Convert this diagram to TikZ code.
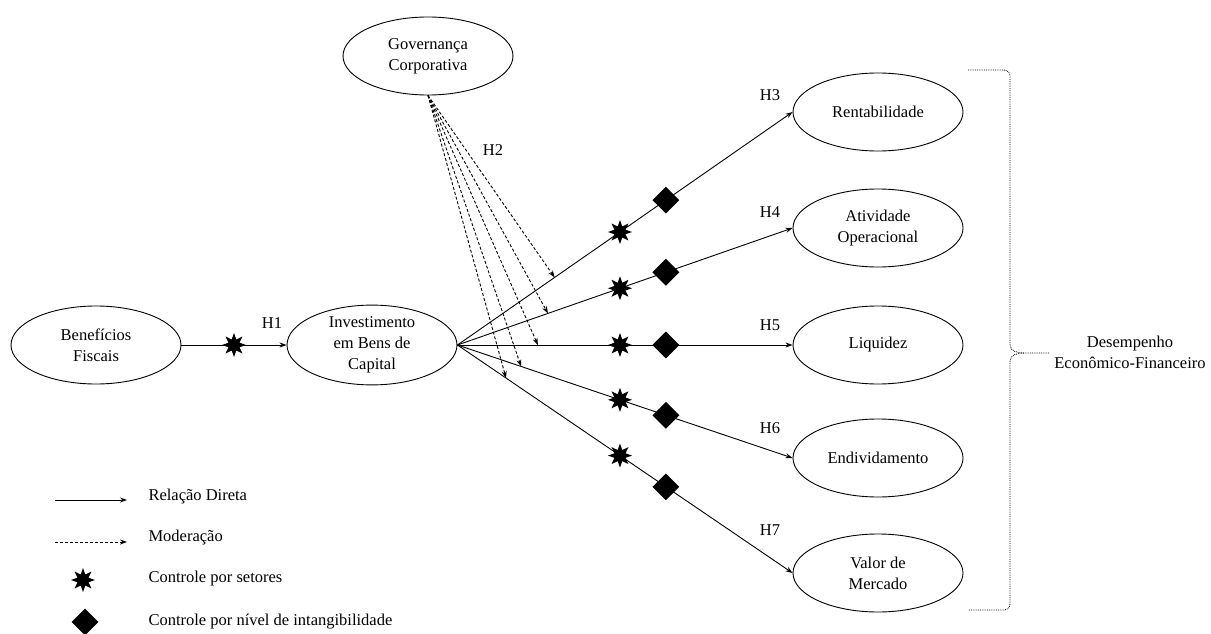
\documentclass[tikz,border=0pt]{standalone}
\usepackage{fontspec}
\setmainfont{Liberation Serif}
\usetikzlibrary{shapes.geometric,arrows.meta}
\begin{document}
\begin{tikzpicture}[x=1pt,y=-1pt,
  every node/.style={font=\fontsize{16.5}{21}\selectfont},
  var/.style={draw, line width=0.9pt, ellipse, minimum width=170pt, minimum height=78pt, inner sep=0pt, align=center},
  conn/.style={line width=0.9pt, -{Stealth[length=7pt,width=5pt]}},
  mod/.style={conn, dash pattern=on 3pt off 2pt},
  ctrlstar/.style={star, star points=8, star point ratio=2, fill=black, minimum size=24pt, inner sep=0pt},
  ctrldia/.style={diamond, fill=black, minimum width=27pt, minimum height=27pt, inner sep=0pt},
  brace/.style={line width=0.8pt, densely dotted},
]
\useasboundingbox (0,0) rectangle (1211,634);

% variables
\node[var] (ben) at (96,345) {Benefícios\\Fiscais};
\node[var] (inv) at (372,345) {Investimento\\em Bens de\\Capital};
\node[var] (gov) at (428,56) {Governança\\Corporativa};
\node[var] (ren) at (878,112) {Rentabilidade};
\node[var] (ati) at (878,228) {Atividade\\Operacional};
\node[var] (liq) at (878,345) {Liquidez};
\node[var] (endv) at (878,458) {Endividamento};
\node[var] (val) at (878,573) {Valor de\\Mercado};

% direct relations
\draw[conn] (ben.east) -- (inv.west) coordinate[pos=0.5] (s0);
\draw[conn] (inv.east) -- (ren.west) coordinate[pos=0.29] (m1) coordinate[pos=0.485] (s1) coordinate[pos=0.622] (d1);
\draw[conn] (inv.east) -- (ati.west) coordinate[pos=0.27] (m2) coordinate[pos=0.485] (s2) coordinate[pos=0.622] (d2);
\draw[conn] (inv.east) -- (liq.west) coordinate[pos=0.24] (m3) coordinate[pos=0.485] (s3) coordinate[pos=0.622] (d3);
\draw[conn] (inv.east) -- (endv.west) coordinate[pos=0.19] (m4) coordinate[pos=0.485] (s4) coordinate[pos=0.622] (d4);
\draw[conn] (inv.east) -- (val.west) coordinate[pos=0.145] (m5) coordinate[pos=0.485] (s5) coordinate[pos=0.622] (d5);

% moderation
\foreach \m in {m1,m2,m3,m4,m5}
  \draw[mod] (gov.south) -- (\m);

% controls
\node[ctrlstar] (st0) at (s0) {};
\foreach \i in {1,...,5}{
  \node[ctrlstar] (st\i) at (s\i) {};
  \node[ctrldia] (di\i) at (d\i) {};
}

% hypothesis labels
\node (h1) at (272,323) {H1};
\node (h2) at (493,150) {H2};
\node (h3) at (770,95) {H3};
\node (h4) at (770,212) {H4};
\node (h5) at (770,325) {H5};
\node (h6) at (770,428) {H6};
\node (h7) at (770,530) {H7};

% brace
\draw[brace] (968,70) -- (1004,70) to[out=0,in=90] (1010,76) -- (1010,345)
  to[out=-90,in=180] (1024,353) -- (1050,353);
\draw[brace] (1024,353) to[out=180,in=90] (1010,361) -- (1010,604)
  to[out=-90,in=0] (1004,610) -- (968,610);
\node[align=center] (desemp) at (1130,352) {Desempenho\\Econômico-Financeiro};

% legend
\coordinate (l1a) at (55,500); \coordinate (l1b) at (127,500);
\draw[conn] (l1a) -- (l1b);
\node[anchor=west] (t1) at (145,497) {Relação Direta};
\coordinate (l2a) at (55,542); \coordinate (l2b) at (127,542);
\draw[mod] (l2a) -- (l2b);
\node[anchor=west] (t2) at (145,538) {Moderação};
\node[ctrlstar] (lst) at (83,580) {};
\node[anchor=west] (t3) at (145,579) {Controle por setores};
\node[ctrldia] (ldi) at (85,622) {};
\node[anchor=west] (t4) at (145,622) {Controle por nível de intangibilidade};
\end{tikzpicture}
\end{document}
